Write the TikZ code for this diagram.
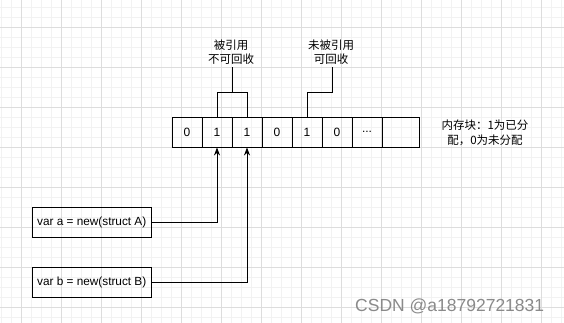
\documentclass[tikz,border=0pt]{standalone}
\usepackage{fontspec}
\setmainfont{Liberation Sans}
\newfontfamily\cjk{Noto Sans CJK SC}
\usetikzlibrary{arrows.meta}
\definecolor{gridminor}{HTML}{F2F2F2}
\definecolor{gridmajor}{HTML}{DDDDDD}
\definecolor{wmark}{HTML}{8A8A8A}
\begin{document}
\begin{tikzpicture}[x=1pt,y=-1pt,
  cell/.style={draw=black,line width=0.9pt,minimum width=30pt,minimum height=30pt,inner sep=0pt,font=\fontsize{12}{14}\selectfont},
  codebox/.style={draw=black,line width=0.9pt,minimum width=119.5pt,minimum height=30pt,inner sep=0pt,font=\fontsize{11.8}{13}\selectfont},
  note/.style={align=center,inner sep=0pt,font=\cjk\fontsize{11.5}{14.5}\selectfont},
  wire/.style={line width=0.9pt,draw=black},
  ptr/.style={wire,-{Stealth[length=8pt,width=6pt,inset=2.5pt]}}]
\useasboundingbox (0,0) rectangle (564,323);
\fill[white] (0,0) rectangle (564,323);
% background grid
\foreach \x in {1.3,11.3,...,564}{\draw[gridminor,line width=0.8pt] (\x,0) -- (\x,323);}
\foreach \y in {7.3,17.3,...,323}{\draw[gridminor,line width=0.8pt] (0,\y) -- (564,\y);}
\foreach \x in {21.3,61.3,...,564}{\draw[gridmajor,line width=0.8pt] (\x,0) -- (\x,323);}
\foreach \y in {27.3,67.3,...,323}{\draw[gridmajor,line width=0.8pt] (0,\y) -- (564,\y);}
% memory cells
\node[cell] (c1) at (187,132) {0};
\node[cell] (c2) at (217,132) {1};
\node[cell] (c3) at (247,132) {1};
\node[cell] (c4) at (277,132) {0};
\node[cell] (c5) at (307,132) {1};
\node[cell] (c6) at (337,132) {0};
\node[cell] (c7) at (367,132) {...};
\node[cell,minimum width=37pt] (c8) at (400.5,132) {};
% annotations
\node[note] (ref) at (231,52) {被引用\\不可回收};
\node[note] (free) at (331,52) {未被引用\\可回收};
\node[note] (legend) at (485,133) {内存块：1为已分\\配，0为未分配};
\coordinate (refjoin) at (232,92.7);
\coordinate (reftop) at (232,67.3);
\coordinate (freetop) at (332,67.3);
\draw[wire] (c2.north) |- (refjoin) -| (c3.north);
\draw[wire] (refjoin) -- (reftop);
\draw[wire] (c5.north) |- (332,92.7) -- (freetop);
% variables
\node[codebox] (va) at (91.7,222.3) {var a = new(struct A)};
\node[codebox] (vb) at (91.7,282.3) {var b = new(struct B)};
\draw[ptr] (va.east) -| (c2.south);
\draw[ptr] (vb.east) -| (c3.south);
% watermark
\node[text=wmark,font=\fontsize{17.5}{19}\selectfont,anchor=west,inner sep=0pt] (wm) at (355,306) {CSDN @a18792721831};
\end{tikzpicture}
\end{document}
